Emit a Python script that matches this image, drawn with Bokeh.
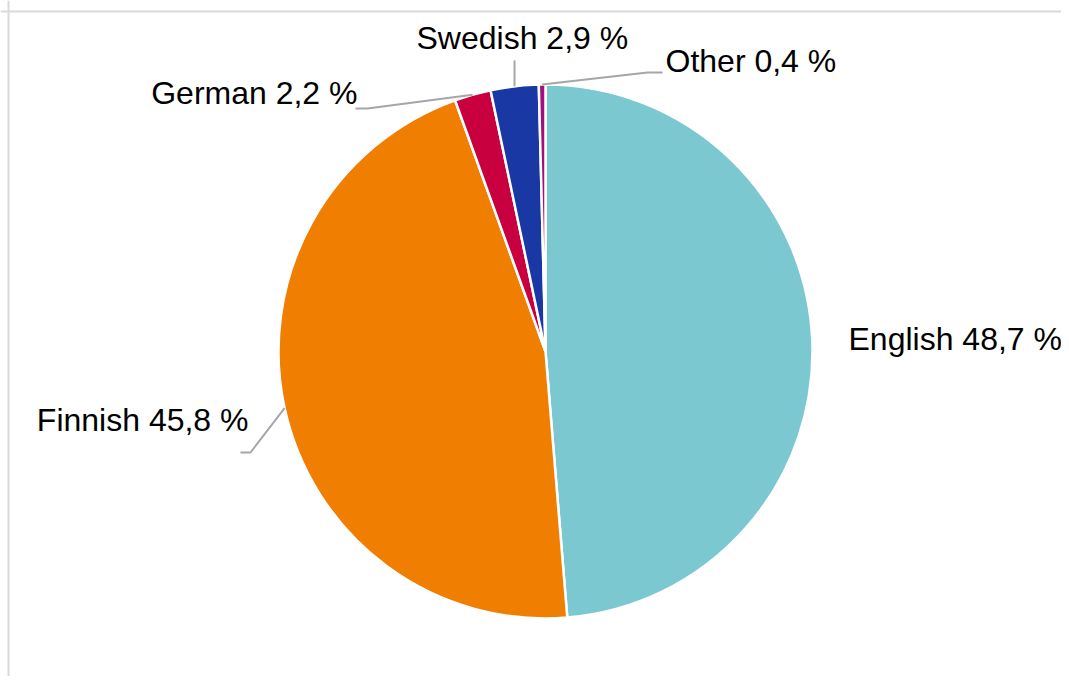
import math
from bokeh.plotting import figure
from bokeh.models import Range1d, Span, ColumnDataSource
from bokeh.core.properties import value
from bokeh.embed import file_html
from bokeh.resources import INLINE

# ---- data ----
languages = ["English", "Finnish", "German", "Swedish", "Other"]
shares = [48.7, 45.8, 2.2, 2.9, 0.4]
labels = ["English 48,7 %", "Finnish 45,8 %", "German 2,2 %", "Swedish 2,9 %", "Other 0,4 %"]
colors = ["#7BC8D1", "#F07E00", "#C8003F", "#1A38A4", "#A0107F"]

# ---- layout ----
W, H = 1061, 676
CX, CY = 545, 325          # pie centre (data units = screen px)
R = 267
FONT = "Liberation Sans"
FS = "32px"
TXT_SHIFT = 13             # compensate baseline placement

p = figure(width=W, height=H, output_backend="svg", toolbar_location=None,
           x_range=Range1d(0, W), y_range=Range1d(0, H),
           min_border=0, outline_line_color=None)
p.axis.visible = False
p.grid.visible = False
p.background_fill_color = "white"

# chart border (top and left visible)
p.add_layout(Span(location=H - 11, dimension="width", line_color="#d9d9d9", line_width=2))
p.add_layout(Span(location=8, dimension="height", line_color="#d9d9d9", line_width=2))

total = sum(shares)
starts, ends, mids = [], [], []
cum = 0.0
for s in shares:
    a0 = math.pi / 2 - 2 * math.pi * cum / total
    cum += s
    a1 = math.pi / 2 - 2 * math.pi * cum / total
    starts.append(a0)
    ends.append(a1)
    mids.append((a0 + a1) / 2)

src = ColumnDataSource(dict(start=starts, end=ends, color=colors, lang=languages))
p.wedge(x=CX, y=CY, radius=R, start_angle="start", end_angle="end",
        direction="clock", fill_color="color", line_color="white", line_width=2.5,
        source=src)

# label anchors / leader elbows (layout, relative to pie centre)
label_pos = {
    "English": (303, 0, "left"),
    "Finnish": (-297, -81, "right"),
    "German": (-188, 246, "right"),
    "Swedish": (-129, 301, "left"),
    "Other": (120, 278, "left"),
}
leader = {
    "Finnish": [(-295, -101), (-305, -101)],
    "German": [(-178, 243), (-190, 243)],
    "Swedish": [(-31, 291)],
    "Other": [(102, 279), (117, 279)],
}

for i, lang in enumerate(languages):
    dx, dy, align = label_pos[lang]
    p.text(x=[CX + dx], y=[CY + dy + TXT_SHIFT], text=[labels[i]], text_font=value(FONT),
           text_font_size=FS, text_align=align, text_baseline="alphabetic",
           text_color="#000000")
    if lang in leader:
        ex = CX + R * math.cos(mids[i])
        ey = CY + R * math.sin(mids[i])
        xs = [ex] + [CX + a for a, b in leader[lang]]
        ys = [ey] + [CY + b for a, b in leader[lang]]
        if lang == "Swedish":
            xs[1] = ex
        p.line(xs, ys, line_color="#A6A6A6", line_width=2)

open("out.html", "w").write(file_html(p, INLINE))
